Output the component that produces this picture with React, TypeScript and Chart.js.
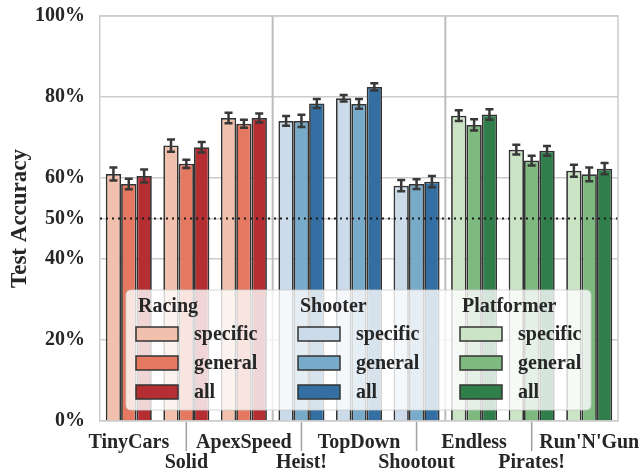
import React, { useEffect, useRef } from "react";
import { Chart, registerables } from "chart.js";

Chart.register(...registerables);

const categories: (string | string[])[] = [
  "TinyCars", ["", "Solid"], "ApexSpeed", ["", "Heist!"], "TopDown",
  ["", "Shootout"], "Endless", ["", "Pirates!"], "Run'N'Gun",
];
const genres = ["Racing", "Shooter", "Platformer"];
const variants = ["specific", "general", "all"];
const specificVals = [61.0, 68.0, 74.8, 74.1, 79.7, 58.1, 75.4, 67.0, 61.8];
const generalVals = [58.5, 63.5, 73.4, 74.1, 78.3, 58.5, 73.1, 64.3, 60.9];
const allVals = [60.5, 67.6, 74.8, 78.4, 82.5, 59.1, 75.7, 66.7, 62.3];
const specificErr = [1.6, 1.5, 1.3, 1.2, 0.8, 1.4, 1.3, 1.2, 1.5];
const generalErr = [1.3, 1.0, 1.0, 1.5, 1.2, 1.2, 1.4, 1.2, 1.7];
const allErr = [1.6, 1.3, 1.1, 1.1, 0.9, 1.4, 1.3, 1.2, 1.4];
const yTicks = [0, 20, 40, 50, 60, 80, 100];
const chanceLevel = 50;

// palette[genre][variant]
const palette = [
  ["#f1c1ad", "#e57860", "#b52e32"],
  ["#cbdbea", "#78abc9", "#336fa2"],
  ["#cae4c5", "#7eba80", "#307e4a"],
];

const FONT = "'Liberation Serif', 'Times New Roman', serif";
const TEXT = "#262626";
const FS = 20;

export default function App() {
  const ref = useRef<HTMLCanvasElement | null>(null);
  useEffect(() => {
    if (!ref.current) return;
    const values = [specificVals, generalVals, allVals];
    const errs = [specificErr, generalErr, allErr];
    const genreOf = (i: number) => Math.floor(i / 3);

    const decor = {
      id: "decor",
      beforeDatasetsDraw(chart: any) {
        const { ctx, chartArea } = chart;
        const xs = chart.scales.x;
        ctx.save();
        ctx.strokeStyle = "#bcbcbc";
        ctx.lineWidth = 2;
        [3, 6].forEach((k) => {
          const x = (xs.getPixelForValue(k - 1) + xs.getPixelForValue(k)) / 2;
          ctx.beginPath();
          ctx.moveTo(x, chartArea.top);
          ctx.lineTo(x, chartArea.bottom);
          ctx.stroke();
        });
        // tick marks for lower-row labels
        ctx.strokeStyle = "#a0a0a0";
        ctx.lineWidth = 1.5;
        categories.forEach((_, i) => {
          if (i % 2 === 1) {
            const x = xs.getPixelForValue(i);
            ctx.beginPath();
            ctx.moveTo(x, chartArea.bottom + 1);
            ctx.lineTo(x, chartArea.bottom + 30);
            ctx.stroke();
          }
        });
        ctx.restore();
      },
      afterDatasetsDraw(chart: any) {
        const { ctx, chartArea } = chart;
        const ys = chart.scales.y;
        ctx.save();
        // error bars
        ctx.strokeStyle = "#383838";
        ctx.lineWidth = 2.5;
        values.forEach((vals, d) => {
          const meta = chart.getDatasetMeta(d);
          meta.data.forEach((el: any, i: number) => {
            const x = el.x;
            const y1 = ys.getPixelForValue(vals[i] + errs[d][i]);
            const y2 = ys.getPixelForValue(vals[i] - errs[d][i]);
            ctx.beginPath();
            ctx.moveTo(x, y1);
            ctx.lineTo(x, y2);
            ctx.moveTo(x - 4, y1);
            ctx.lineTo(x + 4, y1);
            ctx.moveTo(x - 4, y2);
            ctx.lineTo(x + 4, y2);
            ctx.stroke();
          });
        });
        // chance line
        const yc = ys.getPixelForValue(chanceLevel);
        ctx.strokeStyle = "#1a1a1a";
        ctx.lineWidth = 2;
        ctx.setLineDash([2, 4]);
        ctx.beginPath();
        ctx.moveTo(chartArea.left, yc);
        ctx.lineTo(chartArea.right, yc);
        ctx.stroke();
        ctx.setLineDash([]);
        ctx.restore();
      },
      afterDraw(chart: any) {
        const { ctx } = chart;
        ctx.save();
        const bx = 126, by = 290, bw = 465, bh = 120, r = 5;
        ctx.beginPath();
        ctx.moveTo(bx + r, by);
        ctx.lineTo(bx + bw - r, by);
        ctx.quadraticCurveTo(bx + bw, by, bx + bw, by + r);
        ctx.lineTo(bx + bw, by + bh - r);
        ctx.quadraticCurveTo(bx + bw, by + bh, bx + bw - r, by + bh);
        ctx.lineTo(bx + r, by + bh);
        ctx.quadraticCurveTo(bx, by + bh, bx, by + bh - r);
        ctx.lineTo(bx, by + r);
        ctx.quadraticCurveTo(bx, by, bx + r, by);
        ctx.closePath();
        ctx.fillStyle = "rgba(255,255,255,0.8)";
        ctx.fill();
        ctx.strokeStyle = "rgba(204,204,204,0.8)";
        ctx.lineWidth = 1;
        ctx.stroke();

        ctx.font = `bold ${FS}px ${FONT}`;
        ctx.textBaseline = "middle";
        ctx.textAlign = "left";
        genres.forEach((g, gi) => {
          const cx = 136 + gi * 162;
          ctx.fillStyle = TEXT;
          ctx.fillText(g, cx + 2, 307);
          variants.forEach((v, vi) => {
            const cy = 334 + vi * 29;
            ctx.fillStyle = palette[gi][vi];
            ctx.fillRect(cx, cy - 7, 42, 14);
            ctx.strokeStyle = "#333333";
            ctx.lineWidth = 1.5;
            ctx.strokeRect(cx, cy - 7, 42, 14);
            ctx.fillStyle = TEXT;
            ctx.fillText(v, cx + 58, cy + 1);
          });
        });
        ctx.restore();
      },
    };

    const chart = new Chart(ref.current, {
      type: "bar",
      data: {
        labels: categories,
        datasets: variants.map((v, d) => ({
          label: v,
          data: values[d],
          backgroundColor: categories.map((_, i) => palette[genreOf(i)][d]),
          borderColor: "#333333",
          borderWidth: 1.75,
          categoryPercentage: 0.8,
          barPercentage: 1.0,
        })),
      },
      options: {
        responsive: true,
        maintainAspectRatio: false,
        animation: false,
        layout: { padding: { top: 16, right: 24, bottom: 0, left: 0 } },
        plugins: { legend: { display: false }, tooltip: { enabled: false } },
        scales: {
          x: {
            grid: { display: false, drawTicks: false },
            border: { display: true, color: "#cccccc", width: 1.5 },
            ticks: {
              color: TEXT,
              padding: 12,
              maxRotation: 0,
              autoSkip: false,
              font: { family: FONT, size: FS, weight: "bold", lineHeight: 0.98 },
            },
            afterFit(scale: any) {
              scale.height = 54;
              scale.paddingLeft = 0;
              scale.paddingRight = 0;
            },
          },
          y: {
            min: 0,
            max: 100,
            afterBuildTicks(scale: any) {
              scale.ticks = yTicks.map((v) => ({ value: v }));
            },
            grid: { color: "#cccccc", lineWidth: 1.5, drawTicks: false },
            border: { display: true, color: "#cccccc", width: 1.5 },
            ticks: {
              color: TEXT,
              padding: 15,
              callback: (v: any) => `${v}%`,
              font: { family: FONT, size: FS, weight: "bold" },
            },
            title: {
              display: true,
              text: "Test Accuracy",
              color: TEXT,
              padding: { top: 6, bottom: 0 },
              font: { family: FONT, size: 23, weight: "bold" },
            },
            afterFit(scale: any) {
              scale.width = 100;
              scale.paddingTop = 0;
              scale.paddingBottom = 0;
            },
          },
        },
      },
      plugins: [
        decor,
        {
          id: "frame",
          afterDraw(chart: any) {
            const { ctx, chartArea } = chart;
            ctx.save();
            ctx.strokeStyle = "#cccccc";
            ctx.lineWidth = 1.5;
            ctx.beginPath();
            ctx.moveTo(chartArea.left, chartArea.top);
            ctx.lineTo(chartArea.right, chartArea.top);
            ctx.lineTo(chartArea.right, chartArea.bottom);
            ctx.stroke();
            ctx.restore();
          },
        },
      ],
    } as any);
    return () => chart.destroy();
  }, []);

  return (
    <div style={{ position: "fixed", left: 0, top: 0, width: 642, height: 475, background: "#fff" }}>
      <canvas ref={ref} />
    </div>
  );
}
